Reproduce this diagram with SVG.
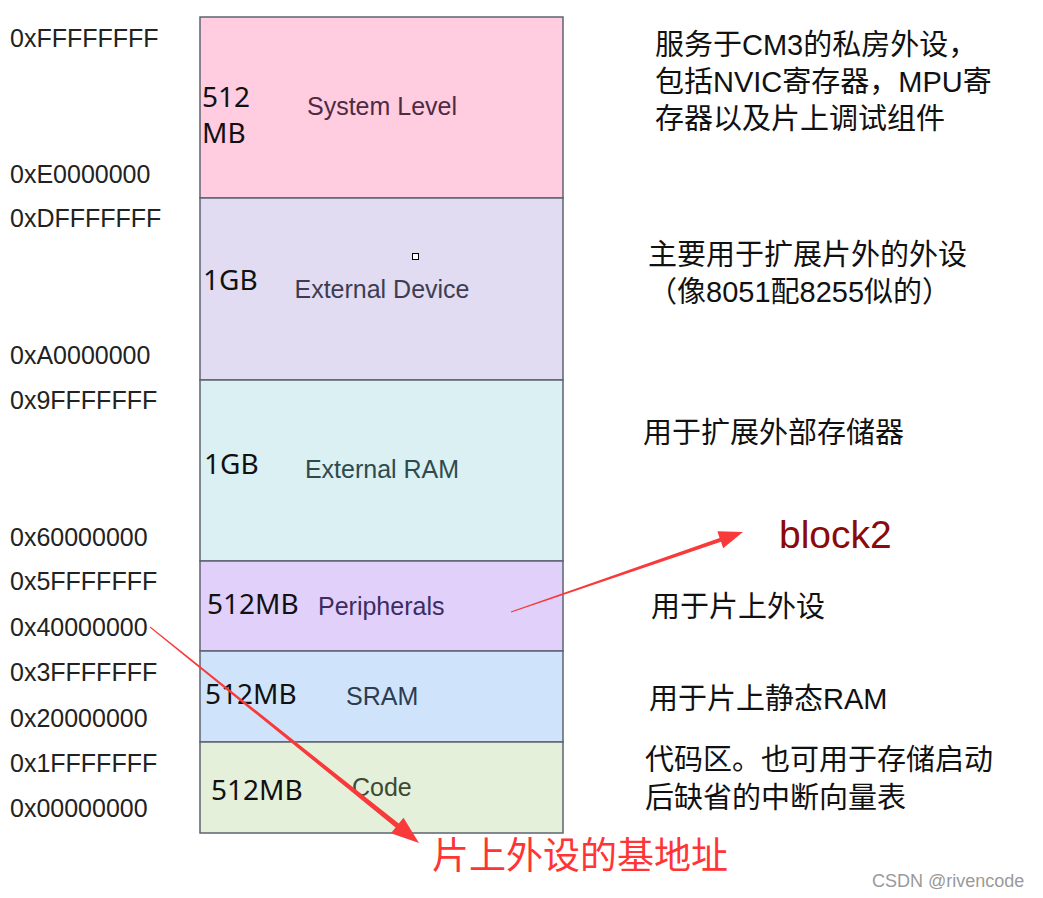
<svg xmlns="http://www.w3.org/2000/svg" width="1043" height="898" viewBox="0 0 1043 898">
<style>
.blk{stroke:#5d6372;stroke-width:1.5}
.addr{font-family:"Liberation Sans",Arial,sans-serif;font-size:25px;fill:#222}
.size{font-family:"Noto Sans","Liberation Sans",sans-serif;font-size:28px;fill:#111}
.name{font-family:"Liberation Sans",Arial,sans-serif;font-size:25px}
.cn{font-family:"Liberation Sans","Noto Sans CJK SC",sans-serif;font-size:29px;fill:#111}
.arr{fill:#F83A3A}
</style>
<rect width="1043" height="898" fill="#fff"/>
<g id="addresses" class="addr">
<text x="10" y="47">0xFFFFFFFF</text>
<text x="10" y="183">0xE0000000</text>
<text x="10" y="227">0xDFFFFFFF</text>
<text x="10" y="364">0xA0000000</text>
<text x="10" y="409">0x9FFFFFFF</text>
<text x="10" y="546">0x60000000</text>
<text x="10" y="590">0x5FFFFFFF</text>
<text x="10" y="636">0x40000000</text>
<text x="10" y="681">0x3FFFFFFF</text>
<text x="10" y="727">0x20000000</text>
<text x="10" y="772">0x1FFFFFFF</text>
<text x="10" y="817">0x00000000</text>
</g>
<g id="system-level">
<rect class="blk" x="200" y="17" width="363" height="181" fill="#FFCCE0"/>
<text class="size" x="202" y="107">512<tspan x="202" y="143">MB</tspan></text>
<text class="name" x="382" y="115" text-anchor="middle" fill="#4d2b43">System Level</text>
</g>
<g id="external-device">
<rect class="blk" x="200" y="198" width="363" height="182" fill="#E1DCF1"/>
<text class="size" x="203" y="290">1GB</text>
<text class="name" x="382" y="298" text-anchor="middle" fill="#3f3c52">External Device</text>
<rect x="412.5" y="253.5" width="6" height="6" fill="#fff" stroke="#000" stroke-width="1"/>
</g>
<g id="external-ram">
<rect class="blk" x="200" y="380" width="363" height="181" fill="#DBF0F3"/>
<text class="size" x="204" y="474">1GB</text>
<text class="name" x="382" y="478" text-anchor="middle" fill="#2f4a4d">External RAM</text>
</g>
<g id="peripherals">
<rect class="blk" x="200" y="561" width="363" height="90" fill="#E1D0FA"/>
<text class="size" x="207" y="614">512MB</text>
<text class="name" x="318" y="615" fill="#3b2c62">Peripherals</text>
</g>
<g id="sram">
<rect class="blk" x="200" y="651" width="363" height="91" fill="#CFE4FB"/>
<text class="size" x="205" y="704">512MB</text>
<text class="name" x="346" y="705" fill="#2c3c52">SRAM</text>
</g>
<g id="code">
<rect class="blk" x="200" y="742" width="363" height="91" fill="#E5F0DA"/>
<text class="size" x="211" y="800">512MB</text>
<text class="name" x="352" y="796" fill="#3c4a32">Code</text>
</g>
<g id="descriptions" class="cn">
<text x="655" y="55">服务于CM3的私房外设，<tspan x="655" y="92">包括NVIC寄存器，MPU寄</tspan><tspan x="655" y="129">存器以及片上调试组件</tspan></text>
<text x="648" y="265">主要用于扩展片外的外设<tspan x="648" y="302">（像8051配8255似的）</tspan></text>
<text x="643" y="443">用于扩展外部存储器</text>
<text x="651" y="617">用于片上外设</text>
<text x="649" y="709">用于片上静态RAM</text>
<text x="645" y="770">代码区。也可用于存储启动<tspan x="645" y="808">后缺省的中断向量表</tspan></text>
</g>
<g id="block2-label">
<text x="779" y="548" font-family="Liberation Sans,Arial,sans-serif" font-size="39" fill="#8B0A0A">block2</text>
</g>
<g id="base-label">
<text x="432" y="869" font-family="Noto Sans CJK SC,sans-serif" font-size="37" fill="#FF3535">片上外设的基地址</text>
</g>
<g id="connectors">
<polygon class="arr" points="510.8,611.5 719.6,537.9 717.4,531.3 743,532 723.2,548.3 721,541.7 511.2,612.5"/>
<polygon class="arr" points="150.3,626.6 398.8,823.6 403.5,817.7 419,843 390.9,833.3 395.6,827.5 149.7,627.4"/>
</g>
<text x="872" y="887" font-family="Liberation Sans,Arial,sans-serif" font-size="18" fill="#9a9a9a">CSDN @rivencode</text>
</svg>
